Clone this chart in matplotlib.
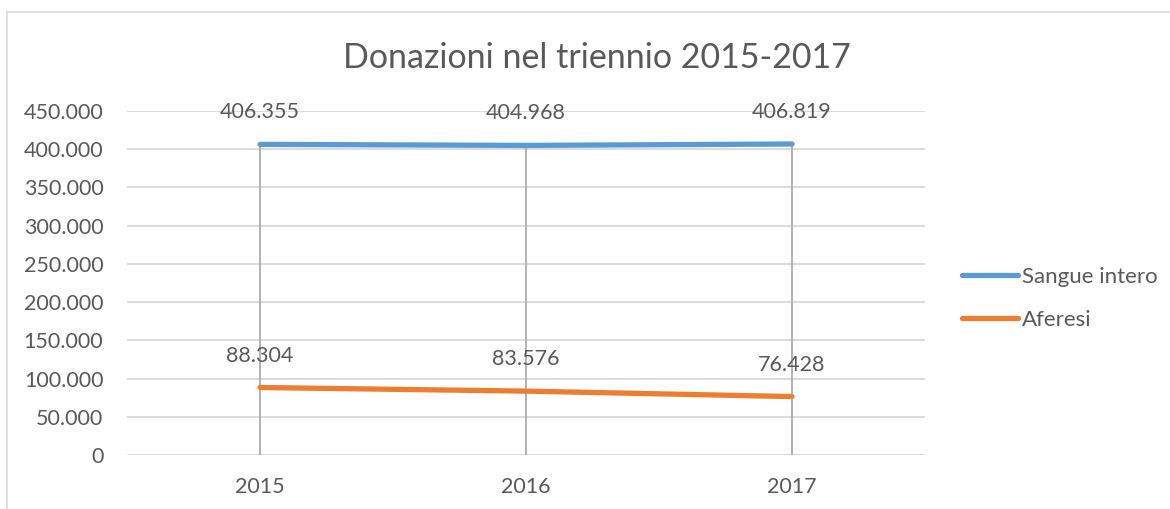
import matplotlib
matplotlib.use("Agg")
import matplotlib.pyplot as plt
from matplotlib.lines import Line2D
from matplotlib.ticker import FuncFormatter, MultipleLocator

years = ["2015", "2016", "2017"]
sangue_intero = [406355, 404968, 406819]
aferesi = [88304, 83576, 76428]
series_names = ["Sangue intero", "Aferesi"]

W, H = 1170, 509
plt.rcParams['font.family'] = ['Lato', 'DejaVu Sans']
txt = '#595959'
fs = 15.5

fig = plt.figure(figsize=(W / 100, H / 100), dpi=100)
ax = fig.add_axes([127 / W, 1 - 455 / H, (925 - 127) / W, (455 - 111) / H])

x = list(range(len(years)))

ax.set_ylim(0, 450000)
ax.set_xlim(-0.5, len(years) - 0.5)
ax.yaxis.set_major_locator(MultipleLocator(50000))
ax.grid(axis='y', color='#D9D9D9', lw=1.3)
ax.set_axisbelow(True)
for s in ax.spines.values():
    s.set_visible(False)

tops = [max(a, b) for a, b in zip(sangue_intero, aferesi)]
ax.vlines(x, 0, tops, color='#A6A6A6', lw=1.2, zorder=2)

ax.plot(x, sangue_intero, color='#5B9BD5', lw=3.8, solid_capstyle='round', label=series_names[0], zorder=3)
ax.plot(x, aferesi, color='#ED7D31', lw=3.8, solid_capstyle='round', label=series_names[1], zorder=3)

fmt = lambda v: f"{int(v):,}".replace(',', '.')
for xi, v in zip(x, sangue_intero):
    ax.annotate(fmt(v), (xi, v), xytext=(0, 23), textcoords='offset points',
                ha='center', va='center', fontsize=fs, color=txt)
for xi, v in zip(x, aferesi):
    ax.annotate(fmt(v), (xi, v), xytext=(0, 23), textcoords='offset points',
                ha='center', va='center', fontsize=fs, color=txt)

ax.yaxis.set_major_formatter(FuncFormatter(lambda v, p: fmt(v)))
ax.set_xticks(x)
ax.set_xticklabels(years)
ax.tick_params(axis='y', length=0, pad=17, labelsize=fs, labelcolor=txt)
ax.tick_params(axis='x', length=0, pad=16, labelsize=fs, labelcolor=txt)

fig.text(596.5 / W, 1 - 58 / H, "Donazioni nel triennio 2015-2017", ha='center', va='center',
         fontsize=24.5, color=txt)

leg = fig.legend(loc='center left', bbox_to_anchor=(962 / W, 1 - 298.5 / H), frameon=False,
                 fontsize=16, handlelength=2.5, handletextpad=0.2, labelspacing=1.05,
                 borderpad=0, borderaxespad=0)
for t in leg.get_texts():
    t.set_color(txt)

fig.add_artist(Line2D([7 / W, 1.01], [1 - 12 / H, 1 - 12 / H], transform=fig.transFigure,
                      color='#D9D9D9', lw=1.2))
fig.add_artist(Line2D([7 / W, 7 / W], [1 - 12 / H, -0.01], transform=fig.transFigure,
                      color='#D9D9D9', lw=1.2))

fig.savefig("out.png", dpi=100)
